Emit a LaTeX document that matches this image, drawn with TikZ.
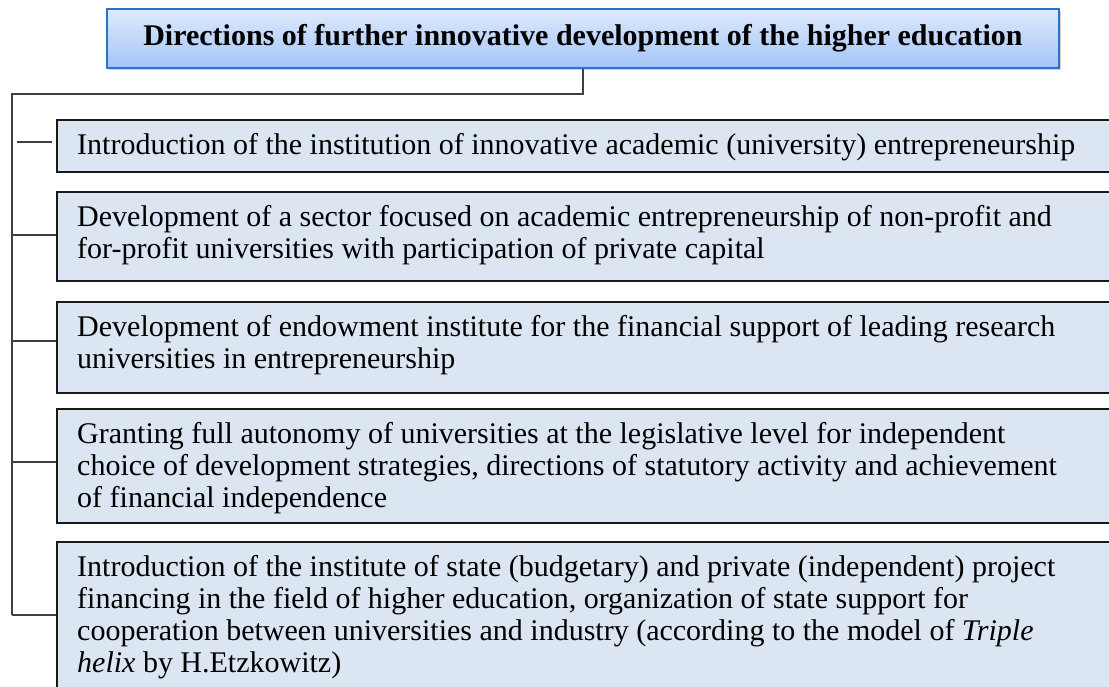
\documentclass[tikz,border=0pt]{standalone}
\usepackage{fontspec}
\setmainfont{Liberation Serif}
\usetikzlibrary{shadows,calc}
\definecolor{boxfill}{RGB}{220,230,242}
\definecolor{boxline}{RGB}{25,25,25}
\definecolor{conn}{RGB}{64,64,64}
\definecolor{ttop}{RGB}{222,234,253}
\definecolor{tbot}{RGB}{163,196,246}
\definecolor{tline}{RGB}{38,118,200}
\tikzset{
  itembox/.style={draw=boxline, line width=2pt, fill=boxfill, anchor=north west, minimum width=1070pt, inner sep=0pt},
  itemtext/.style={anchor=base west, inner sep=0pt, font=\fontsize{30}{32}\selectfont},
  titlebox/.style={draw=tline, line width=2pt, top color=ttop, bottom color=tbot, minimum width=952pt, minimum height=59pt, inner sep=0pt,
    font=\fontsize{30}{34}\selectfont\bfseries, drop shadow={shadow xshift=1.5pt, shadow yshift=-2pt, opacity=0.35}},
  connline/.style={draw=conn, line width=1.4pt}
}
\newcommand{\lines}[1]{\begin{tabular}[t]{@{}l@{}}#1\end{tabular}}
\begin{document}
\begin{tikzpicture}[x=1pt,y=-1pt]
\useasboundingbox (0,0) rectangle (1109,686);
\clip (0,0) rectangle (1109,686);
% title
\node[titlebox] (t) at (583,38.5) {Directions of further innovative development of the higher education};
% boxes
\node[itembox, minimum height=52pt] (b1) at (56,119) {};
\node[itembox, minimum height=89pt] (b2) at (56,191) {};
\node[itembox, minimum height=91pt] (b3) at (56,301) {};
\node[itembox, minimum height=114pt] (b4) at (56,408) {};
\node[itembox, minimum height=200pt] (b5) at (56,541) {};
% texts
\renewcommand{\arraystretch}{1}
\node[itemtext] (x1) at (77,154) {\lines{Introduction of the institution of innovative academic (university) entrepreneurship}};
\node[itemtext] (x2) at (77,226) {\lines{Development of a sector focused on academic entrepreneurship of non-profit and\\for-profit universities with participation of private capital}};
\node[itemtext] (x3) at (77,336) {\lines{Development of endowment institute for the financial support of leading research\\universities in entrepreneurship}};
\node[itemtext] (x4) at (77,443) {\lines{Granting full autonomy of universities at the legislative level for independent\\choice of development strategies, directions of statutory activity and achievement\\of financial independence}};
\node[itemtext] (x5) at (77,576) {\lines{Introduction of the institute of state (budgetary) and private (independent) project\\financing in the field of higher education, organization of state support for\\cooperation between universities and industry (according to the model of \textit{Triple}\\\textit{helix} by H.Etzkowitz)}};
% connectors
\coordinate (top) at (12,94);
\coordinate (j1) at (12,142);
\coordinate (j2) at (12,235);
\coordinate (j3) at (12,341);
\coordinate (j4) at (12,462);
\coordinate (j5) at (12,615);
\draw[connline] (t.south) |- (top) -- (j5);
\draw[connline] ($(j1)+(5,0)$) -- ($(j1 -| b1.west)+(-4,0)$);
\draw[connline] (j2) -- (j2 -| b2.west);
\draw[connline] (j3) -- (j3 -| b3.west);
\draw[connline] (j4) -- (j4 -| b4.west);
\draw[connline] (j5) -- (j5 -| b5.west);
\end{tikzpicture}
\end{document}
